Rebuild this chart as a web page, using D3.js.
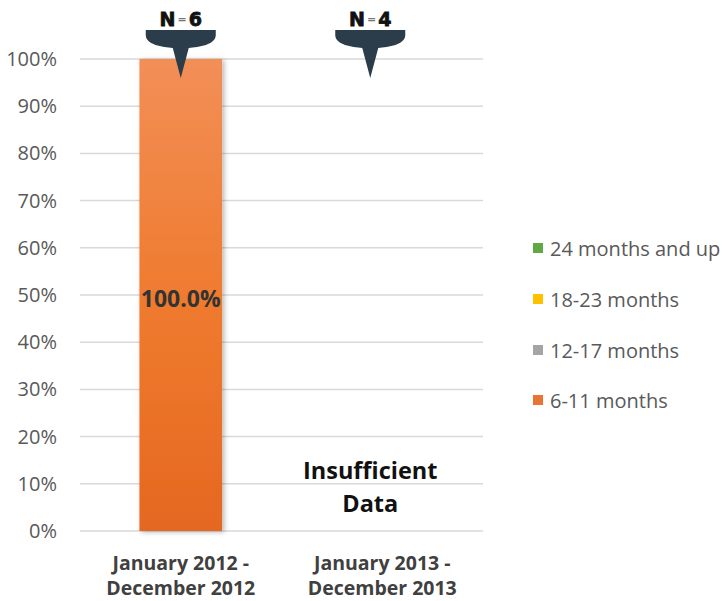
<!DOCTYPE html>
<html>
<head>
<meta charset="utf-8">
<script src="https://cdn.jsdelivr.net/npm/d3@7"></script>
<style>
  body { margin: 0; background: #fff; }
  svg { display: block; }
</style>
</head>
<body>
<div class="chart1"></div>
<script>
// data
var periods = ["January 2012 - December 2012", "January 2013 - December 2013"];
var periodLines = [["January 2012 -", "December 2012"], ["January 2013 -", "December 2013"]];
var counts = [6, 4];
var groups = ["6-11 months", "12-17 months", "18-23 months", "24 months and up"];
var share611 = [100, null];
var share1217 = [0, null];
var share1823 = [0, null];
var share24up = [0, null];
var yTicks = [0, 10, 20, 30, 40, 50, 60, 70, 80, 90, 100];
var groupColors = ["#EC7330", "#A5A5A5", "#FFC000", "#5FA843"];

var W = 725, H = 601;
var svg = d3.select(".chart1").append("svg").attr("width", W).attr("height", H);

var x = d3.scaleBand().domain(periods).range([80, 483]).paddingInner(0.59).paddingOuter(0.295);
var y = d3.scaleLinear().domain([0, 100]).range([531, 59]);

var defs = svg.append("defs");
var grad = defs.append("linearGradient").attr("id", "barGrad").attr("x1", 0).attr("y1", 0).attr("x2", 0).attr("y2", 1);
grad.append("stop").attr("offset", "0%").attr("stop-color", "#F28F57");
grad.append("stop").attr("offset", "50%").attr("stop-color", "#EF7B2F");
grad.append("stop").attr("offset", "100%").attr("stop-color", "#E56821");
var shadow = defs.append("filter").attr("id", "shadow").attr("x", "-20%").attr("y", "-10%").attr("width", "140%").attr("height", "120%");
shadow.append("feDropShadow").attr("dx", 2).attr("dy", 1).attr("stdDeviation", 2.5).attr("flood-color", "#000").attr("flood-opacity", 0.3);

// grid
svg.append("g").selectAll("line").data(yTicks).join("line")
  .attr("x1", 80).attr("x2", 483)
  .attr("y1", function (d) { return y(d); }).attr("y2", function (d) { return y(d); })
  .attr("stroke", "#D9D9D9").attr("stroke-width", 1.5);

// y axis labels
svg.append("g").selectAll("text").data(yTicks).join("text")
  .attr("x", 57).attr("y", function (d) { return y(d); }).attr("dy", "0.35em")
  .attr("text-anchor", "end")
  .style("font-family", "Open Sans").style("font-size", "20px").attr("fill", "#595959")
  .text(function (d) { return d + "%"; });

// stacked bars
var series = [share611, share1217, share1823, share24up];
var table = periods.map(function (p, i) {
  var row = { period: p };
  groups.forEach(function (g, k) { row[g] = series[k][i] || 0; });
  return row;
});
var stack = d3.stack().keys(groups)(table);
stack.forEach(function (layer, k) {
  svg.append("g").selectAll("rect").data(layer.filter(function (d) { return d[1] - d[0] > 0; })).join("rect")
    .attr("x", function (d) { return x(d.data.period); })
    .attr("width", x.bandwidth())
    .attr("y", function (d) { return y(d[1]); })
    .attr("height", function (d) { return y(d[0]) - y(d[1]); })
    .attr("fill", k === 0 ? "url(#barGrad)" : groupColors[k])
    .attr("filter", "url(#shadow)");
  svg.append("g").selectAll("text").data(layer.filter(function (d) { return d[1] - d[0] > 0; })).join("text")
    .attr("x", function (d) { return x(d.data.period) + x.bandwidth() / 2; })
    .attr("y", function (d) { return (y(d[0]) + y(d[1])) / 2 + 12; })
    .attr("text-anchor", "middle")
    .style("font-family", "Open Sans").style("font-size", "23px").style("font-weight", "bold")
    .attr("fill", "#333")
    .text(function (d) { return (d[1] - d[0]).toFixed(1) + "%"; });
});

// insufficient data note
var noData = periods.filter(function (p, i) { return share611[i] === null; });
noData.forEach(function (p) {
  var t = svg.append("text").attr("text-anchor", "middle")
    .style("font-family", "Open Sans").style("font-size", "23.5px").style("font-weight", "bold").attr("fill", "#111");
  t.append("tspan").attr("x", x(p) + x.bandwidth() / 2 - 12).attr("y", 479).text("Insufficient");
  t.append("tspan").attr("x", x(p) + x.bandwidth() / 2 - 12).attr("y", 512).text("Data");
});

// category labels
periods.forEach(function (p, i) {
  var t = svg.append("text").attr("text-anchor", "middle")
    .style("font-family", "Open Sans").style("font-size", "19.5px").style("font-weight", "bold").attr("fill", "#404040");
  periodLines[i].forEach(function (line, j) {
    t.append("tspan").attr("x", x(p) + x.bandwidth() / 2).attr("y", 570 + j * 24.5).text(line);
  });
});

// N markers
var markerOffset = [0, -12];
periods.forEach(function (p, i) {
  var cx = x(p) + x.bandwidth() / 2 + markerOffset[i];
  var path = "M" + (cx - 35) + ",30 L" + (cx + 35) + ",30 L" + (cx + 35) + ",35 " +
    "C" + (cx + 35) + ",45 " + (cx + 18) + ",47 " + (cx + 8) + ",48 " +
    "L" + cx + ",78 L" + (cx - 8) + ",48 " +
    "C" + (cx - 18) + ",47 " + (cx - 35) + ",45 " + (cx - 35) + ",35 Z";
  svg.append("path").attr("d", path).attr("fill", "#2B3D4A");
  var t = svg.append("text").attr("x", cx).attr("y", 26).attr("text-anchor", "middle")
    .style("font-family", "DejaVu Sans").style("font-weight", "bold").attr("fill", "#111")
    .attr("stroke", "#111").attr("stroke-width", 0.8);
  t.append("tspan").style("font-size", "19px").text("N");
  t.append("tspan").style("font-size", "11px").attr("fill", "#777").attr("stroke", "none").attr("dx", 2).attr("dy", -3).text("=");
  t.append("tspan").style("font-size", "19px").attr("dx", 2).attr("dy", 3).text(counts[i]);
});

// legend
var legendY = [401, 351, 300, 249];
groups.forEach(function (g, k) {
  var lg = svg.append("g").attr("transform", "translate(533," + legendY[k] + ")");
  lg.append("rect").attr("x", 0).attr("y", -6).attr("width", 10).attr("height", 10).attr("fill", groupColors[k]);
  lg.append("text").attr("x", 17).attr("y", 0).attr("dy", "0.35em")
    .style("font-family", "Open Sans").style("font-size", "20px").attr("fill", "#595959").text(g);
});
</script>
</body>
</html>
